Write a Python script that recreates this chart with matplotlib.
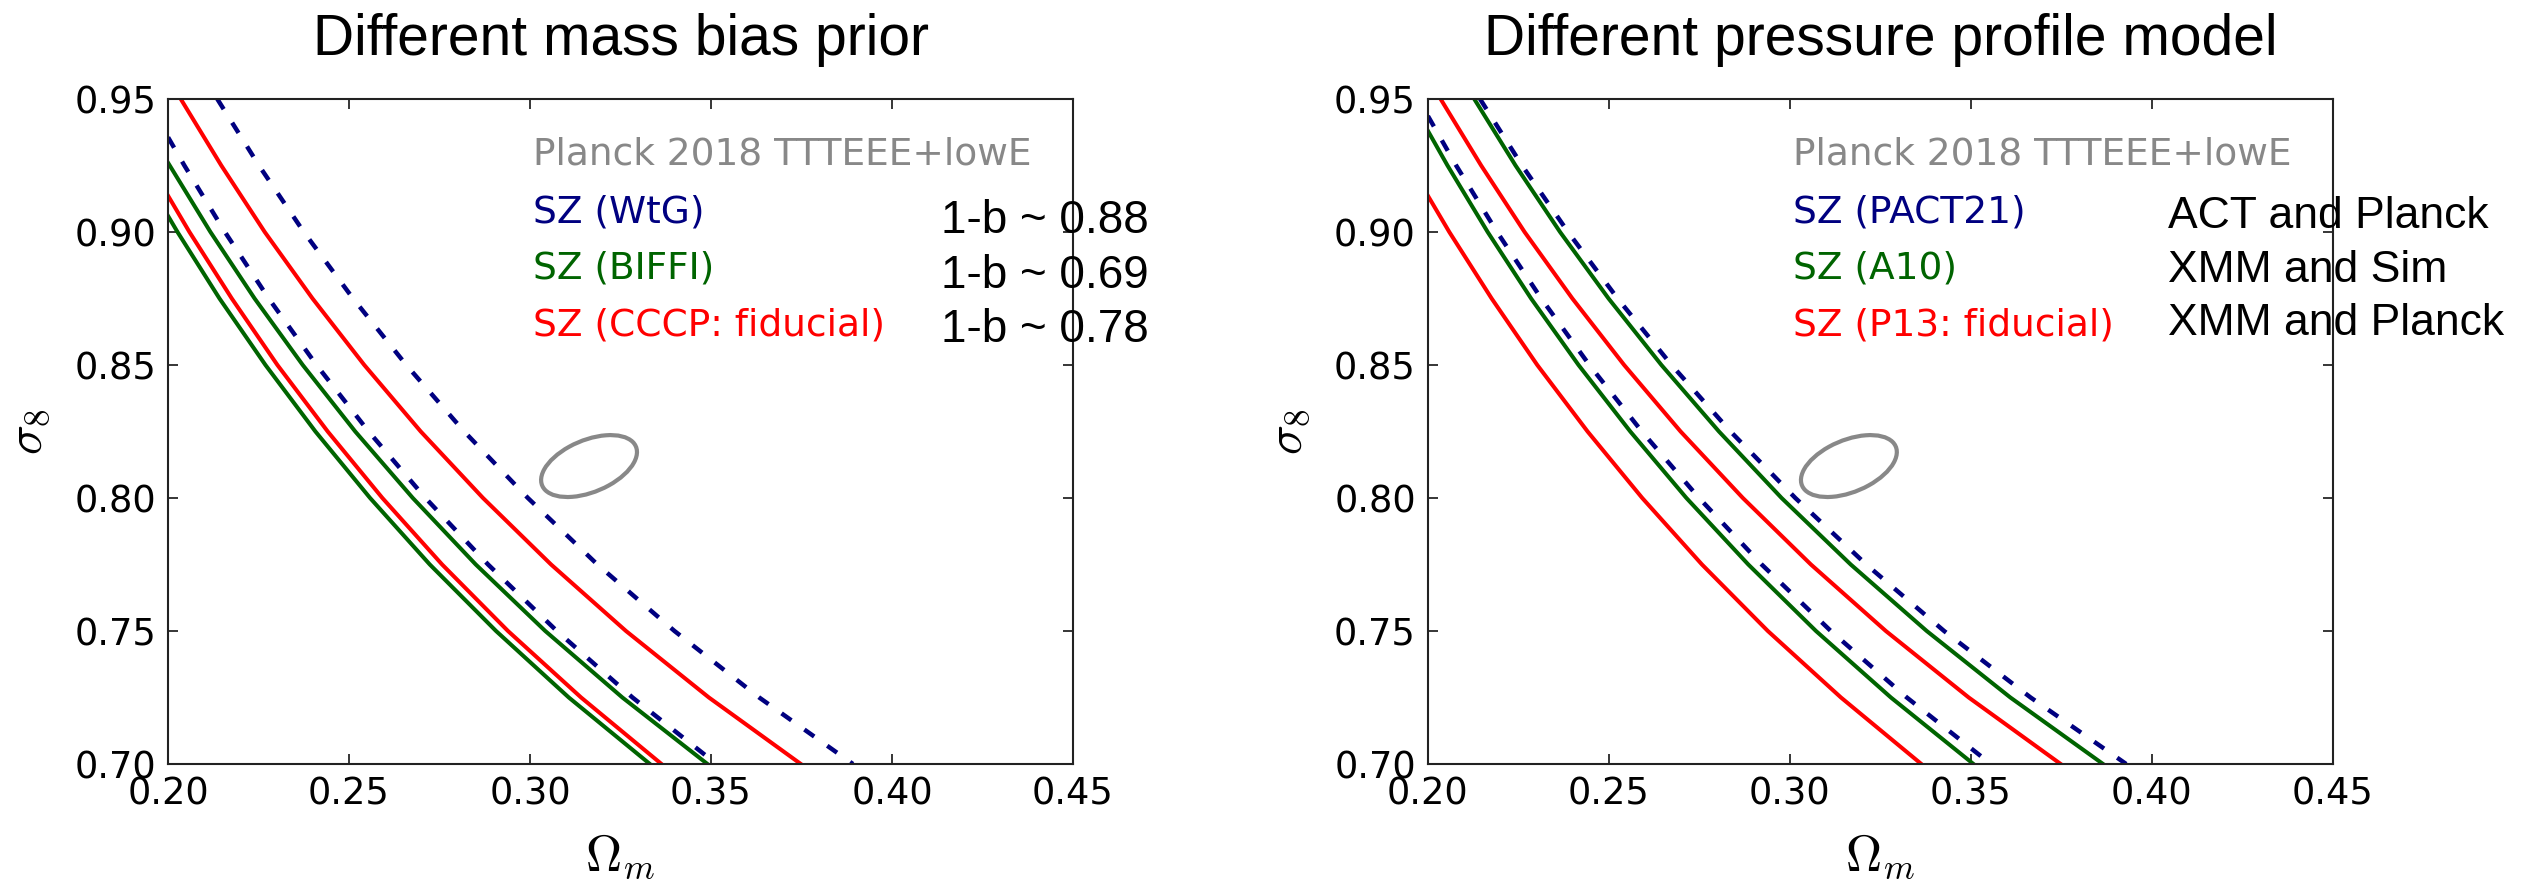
import matplotlib.pyplot as plt
from matplotlib.patches import Ellipse

# === Data ===
# sigma_8 levels at which the curves were read
s8_levels = [0.95, 0.925, 0.90, 0.875, 0.85, 0.825, 0.80, 0.775, 0.75, 0.725, 0.70]

# Left panel: mass bias priors (Omega_m values at the sigma_8 levels)
wtg_hi_om = [0.2136, 0.2251, 0.2375, 0.2511, 0.2658, 0.2818, 0.2994, 0.3186, 0.3399, 0.3633, 0.3892]
wtg_hi_s8 = s8_levels
wtg_lo_om = [0.2000, 0.2045, 0.2157, 0.2278, 0.2410, 0.2554, 0.2711, 0.2884, 0.3074, 0.3283, 0.3515]
wtg_lo_s8 = [0.9356] + s8_levels[1:]
biffi_hi_om = [0.2000, 0.2117, 0.2239, 0.2372, 0.2517, 0.2676, 0.2850, 0.3042, 0.3255, 0.3490]
biffi_hi_s8 = [0.926] + s8_levels[2:]
biffi_lo_om = [0.2000, 0.2026, 0.2142, 0.2269, 0.2407, 0.2558, 0.2723, 0.2906, 0.3107, 0.3331]
biffi_lo_s8 = [0.906] + s8_levels[2:]

# Fiducial (CCCP / P13), identical in both panels
fid_hi_om = [0.2035, 0.2147, 0.2267, 0.2399, 0.2542, 0.2698, 0.2870, 0.3058, 0.3265, 0.3494, 0.3748]
fid_hi_s8 = s8_levels
fid_lo_om = [0.2000, 0.2059, 0.2176, 0.2302, 0.2441, 0.2592, 0.2757, 0.2939, 0.3141, 0.3363]
fid_lo_s8 = [0.9136] + s8_levels[2:]

# Right panel: pressure profile models
pact_hi_om = [0.2144, 0.2260, 0.2387, 0.2524, 0.2673, 0.2836, 0.3015, 0.3211, 0.3426, 0.3665, 0.3929]
pact_hi_s8 = s8_levels
pact_lo_om = [0.2000, 0.2078, 0.2191, 0.2313, 0.2446, 0.2591, 0.2749, 0.2922, 0.3113, 0.3323, 0.3555]
pact_lo_s8 = [0.9436] + s8_levels[1:]
a10_hi_om = [0.2128, 0.2242, 0.2365, 0.2499, 0.2645, 0.2804, 0.2977, 0.3168, 0.3378, 0.3609, 0.3865]
a10_hi_s8 = s8_levels
a10_lo_om = [0.2000, 0.2054, 0.2165, 0.2285, 0.2416, 0.2559, 0.2714, 0.2885, 0.3072, 0.3279, 0.3507]
a10_lo_s8 = [0.938] + s8_levels[1:]

# Planck 2018 contour (ellipse in data units)
planck_center = (0.3163, 0.8120)
planck_width = 0.0302
planck_height = 0.0182
planck_angle = 37.0

# Ticks
om_ticks = [0.20, 0.25, 0.30, 0.35, 0.40, 0.45]
s8_ticks = [0.70, 0.75, 0.80, 0.85, 0.90, 0.95]

# Text
titles = ["Different mass bias prior", "Different pressure profile model"]
planck_label = "Planck 2018 TTTEEE+lowE"
left_labels = ["SZ (WtG)", "SZ (BIFFI)", "SZ (CCCP: fiducial)"]
right_labels = ["SZ (PACT21)", "SZ (A10)", "SZ (P13: fiducial)"]
left_notes = ["1-b ~ 0.88", "1-b ~ 0.69", "1-b ~ 0.78"]
right_notes = ["ACT and Planck", "XMM and Sim", "XMM and Planck"]

# === Style ===
plt.rcParams['mathtext.fontset'] = 'cm'
navy = '#000080'
green = '#006400'
red = '#ff0000'
grey = '#888888'
label_colors = [navy, green, red]

fig = plt.figure(figsize=(25.39, 8.83), dpi=100)
ax_left = fig.add_axes([0.0662, 0.1348, 0.3564, 0.7531])
ax_right = fig.add_axes([0.5624, 0.1348, 0.3564, 0.7531])


def draw_panel(ax, title, dashed, greens, reds, labels):
    for om, s8 in dashed:
        ax.plot(om, s8, color=navy, lw=3.2, ls='--', dashes=(2.7, 3.6))
    for om, s8 in greens:
        ax.plot(om, s8, color=green, lw=2.9, solid_joinstyle='round')
    for om, s8 in reds:
        ax.plot(om, s8, color=red, lw=2.9, solid_joinstyle='round')

    ax.add_patch(Ellipse(planck_center, planck_width, planck_height,
                         angle=planck_angle, fill=False, ec=grey, lw=3.0))

    ax.set_xlim(0.20, 0.45)
    ax.set_ylim(0.70, 0.95)
    ax.set_xticks(om_ticks)
    ax.set_yticks(s8_ticks)
    ax.set_xticklabels(['%.2f' % t for t in om_ticks])
    ax.set_yticklabels(['%.2f' % t for t in s8_ticks])
    ax.tick_params(direction='in', top=True, right=True, length=7.5, width=1.1,
                   labelsize=26.5, pad=8.6)
    for sp in ax.spines.values():
        sp.set_linewidth(1.5)
        sp.set_color('#222222')

    ax.set_xlabel(r'$\Omega_m$', fontsize=36, labelpad=14)
    ax.set_ylabel(r'$\sigma_8$', fontsize=36, labelpad=16)
    ax.set_title(title, fontsize=41, family='Liberation Sans', pad=31.7)

    # legend-like coloured labels
    ax.text(0.403, 0.901, planck_label, color=grey, fontsize=27,
            transform=ax.transAxes, va='baseline')
    for i, (lab, col) in enumerate(zip(labels, label_colors)):
        ax.text(0.403, 0.815 - i * 0.0857, lab, color=col, fontsize=27,
                transform=ax.transAxes, va='baseline')


draw_panel(ax_left, titles[0],
           [(wtg_hi_om, wtg_hi_s8), (wtg_lo_om, wtg_lo_s8)],
           [(biffi_hi_om, biffi_hi_s8), (biffi_lo_om, biffi_lo_s8)],
           [(fid_hi_om, fid_hi_s8), (fid_lo_om, fid_lo_s8)],
           left_labels)
draw_panel(ax_right, titles[1],
           [(pact_hi_om, pact_hi_s8), (pact_lo_om, pact_lo_s8)],
           [(a10_hi_om, a10_hi_s8), (a10_lo_om, a10_lo_s8)],
           [(fid_hi_om, fid_hi_s8), (fid_lo_om, fid_lo_s8)],
           right_labels)

# === Annotations on top of the panels ===
note_y = [0.7361, 0.6738, 0.6127]
for note, y in zip(left_notes, note_y):
    fig.text(0.3706, y, note, fontsize=33, family='Liberation Sans', va='baseline')
note_y_right = [0.7418, 0.6806, 0.6206]
for note, y in zip(right_notes, note_y_right):
    fig.text(0.8539, y, note, fontsize=32, family='Liberation Sans', va='baseline')

fig.savefig('out.png', dpi=100)
